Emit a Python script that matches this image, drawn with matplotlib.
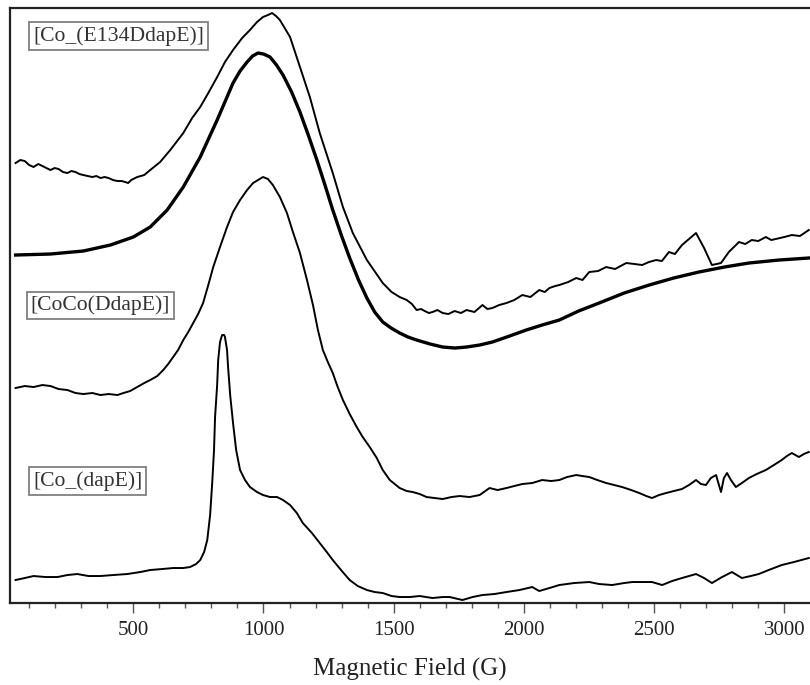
import matplotlib.pyplot as plt
from matplotlib.ticker import MultipleLocator

plt.rcParams['font.family'] = ['Liberation Serif', 'DejaVu Serif']

# Field axis (G) for each trace
field_e134 = [48, 66, 83, 100, 117, 135, 151, 166, 182, 198, 213, 230, 247, 262, 278, 293,
              308, 325, 343, 358, 374, 390, 405, 422, 439, 455, 469, 480, 492,
              515, 542, 565, 603, 642, 692, 726, 757, 788, 822, 852, 883, 918, 948, 975,
              998, 1017, 1033, 1048, 1063, 1102, 1140, 1178, 1216, 1266, 1305, 1343, 1397,
              1458, 1492, 1523, 1550, 1570, 1588, 1605, 1619, 1635, 1649, 1668, 1688, 1710,
              1734, 1758, 1780, 1810, 1841, 1860, 1879, 1905, 1933,
              1963, 1994, 2025, 2059, 2080, 2098, 2120, 2136, 2170, 2201, 2225, 2251, 2285,
              2316, 2350, 2393, 2425, 2454, 2480, 2508, 2530, 2557, 2580, 2607,
              2661, 2692, 2722, 2757, 2787, 2826, 2850, 2875, 2900, 2929, 2950, 2967, 3000,
              3029, 3060, 3094]
sig_e134 = [439, 442, 441, 437, 435, 438, 436, 434, 432, 434, 433, 430, 429, 431, 430, 428,
            427, 426, 425, 426, 424, 425, 424, 422, 421, 421, 420, 419, 422,
            425, 427, 432, 440, 452, 469, 484, 495, 509, 525, 540, 552, 564, 572, 580,
            585, 587, 589, 586, 582, 565, 535, 505, 469, 429, 395, 369, 342,
            319, 310, 305, 302, 298, 292, 293, 291, 289, 290, 292, 289, 288,
            291, 289, 292, 290, 297, 293, 294, 297, 299,
            302, 307, 305, 312, 310, 314, 316, 317, 320, 324, 322, 330, 331,
            335, 333, 339, 338, 337, 340, 342, 341, 350, 348, 357,
            369, 354, 337, 339, 350, 360, 358, 362, 361, 365, 362, 363, 365,
            367, 366, 372]

# Simulated spectrum (smooth)
field_sim = [48, 182, 308, 412, 500, 565, 630, 692, 757, 822, 883, 910, 937, 958, 979,
             1000, 1025, 1050, 1075, 1108, 1140, 1172, 1205, 1236, 1266, 1300, 1331, 1365,
             1397, 1427, 1458, 1490, 1523, 1555, 1588, 1640, 1688, 1735, 1780, 1830, 1879,
             1945, 2009, 2070, 2136, 2210, 2289, 2385, 2481, 2575, 2672, 2770, 2864, 2980,
             3094]
sig_sim = [347, 348, 351, 357, 365, 375, 392, 415, 445, 482, 519, 531, 540, 546, 549,
           548, 545, 537, 527, 510, 490, 467, 442, 417, 392, 366, 344, 322,
           304, 290, 280, 274, 269, 265, 262, 258, 255, 254, 255, 257, 260,
           266, 272, 277, 282, 291, 299, 309, 317, 324, 330, 335, 339, 342,
           344]

field_coco = [48, 83, 117, 151, 182, 213, 247, 278, 308, 343, 374, 405, 439, 462, 488,
              515, 542, 565, 592, 615, 634, 653, 672, 692, 711, 730, 749, 768, 788, 807,
              833, 860, 883, 910, 937, 960, 979, 998, 1017, 1036, 1063, 1090, 1113, 1140,
              1167, 1190, 1209, 1228, 1247, 1266, 1285, 1305, 1331, 1358, 1381, 1408, 1435,
              1458, 1485, 1523, 1550, 1573, 1600, 1626, 1657, 1688, 1722, 1753, 1791, 1830,
              1868, 1899, 1933, 1963, 1994, 2032, 2070, 2105, 2136, 2166, 2201, 2224, 2251,
              2282, 2316, 2347, 2377, 2412, 2443, 2470, 2492, 2519, 2546, 2576, 2607, 2634,
              2661, 2680, 2699, 2718, 2738, 2749, 2757, 2768, 2780, 2795, 2814, 2837, 2864,
              2894, 2929, 2960, 2990, 3010, 3029, 3056, 3075, 3094]
sig_coco = [214, 216, 215, 217, 216, 213, 212, 209, 208, 209, 207, 208, 207, 209, 211,
            215, 219, 222, 226, 232, 238, 245, 252, 262, 270, 279, 288, 299, 317, 335,
            355, 375, 390, 402, 412, 419, 422, 425, 423, 417, 405, 389, 370, 349,
            322, 297, 272, 252, 240, 229, 215, 202, 188, 175, 165, 155, 144,
            132, 122, 114, 111, 110, 108, 105, 104, 103, 105, 106, 105, 107,
            114, 112, 114, 116, 118, 119, 122, 121, 122, 125, 127, 126, 125,
            122, 119, 117, 115, 112, 109, 106, 104, 107, 109, 111, 113, 117,
            122, 118, 117, 124, 127, 117, 110, 124, 129, 122, 115, 119, 124,
            128, 132, 137, 142, 146, 149, 145, 148, 150]

field_dape = [48, 83, 117, 163, 209, 247, 285, 328, 374, 423, 477, 527, 565, 611, 653,
              692, 718, 741, 757, 772, 784, 795, 803, 810, 814, 822, 826, 833, 841, 849,
              852, 860, 864, 872, 883, 895, 910, 929, 948, 975, 998, 1025, 1052, 1075,
              1102, 1128, 1151, 1186, 1216, 1243, 1266, 1301, 1331, 1362, 1397, 1427, 1458,
              1492, 1523, 1561, 1600, 1649, 1688, 1715, 1764, 1803, 1841, 1887, 1933, 1983,
              2032, 2059, 2098, 2136, 2193, 2251, 2289, 2339, 2385, 2416, 2462, 2492, 2531,
              2569, 2607, 2634, 2661, 2692, 2722, 2761, 2799, 2837, 2871, 2902, 2940, 2990,
              3037, 3094]
sig_dape = [22, 24, 26, 25, 25, 27, 28, 26, 26, 27, 28, 30, 32, 33, 34,
            34, 35, 38, 42, 50, 62, 87, 119, 152, 185, 217, 242, 260, 267, 267,
            265, 252, 235, 207, 179, 152, 132, 122, 115, 110, 107, 105, 105, 102,
            97, 89, 79, 69, 59, 50, 42, 31, 22, 16, 12, 10, 9,
            6, 5, 5, 6, 4, 5, 5, 2, 5, 7, 8, 10, 12,
            15, 11, 14, 17, 19, 20, 18, 17, 19, 20, 20, 20, 17,
            21, 24, 26, 28, 24, 19, 25, 30, 24, 26, 28, 32, 37,
            40, 44]

labels = ['[Co_(E134DdapE)]', '[CoCo(DdapE)]', '[Co_(dapE)]']
label_pos = [(0.029, 0.953), (0.026, 0.500), (0.029, 0.204)]

fig = plt.figure(figsize=(8.1, 6.85), dpi=100)
ax = fig.add_axes([10 / 810, 0.1204, 800 / 810, 0.8679])

ax.plot(field_e134, sig_e134, color='black', lw=1.4)
ax.plot(field_sim, sig_sim, color='black', lw=2.4, solid_joinstyle='round')
ax.plot(field_coco, sig_coco, color='black', lw=1.4)
ax.plot(field_dape, sig_dape, color='black', lw=1.4)

for text, (tx, ty) in zip(labels, label_pos):
    ax.text(tx, ty, text, transform=ax.transAxes, fontsize=15.6, color='#333333',
            ha='left', va='center',
            bbox=dict(boxstyle='square,pad=0.18', fc='white', ec='#808080', lw=1.3))

ax.set_xlim(26.5, 3098.7)
ax.set_ylim(-0.5, 594)
ax.xaxis.set_major_locator(MultipleLocator(500))
ax.xaxis.set_minor_locator(MultipleLocator(100))
ax.set_yticks([])
ax.tick_params(axis='x', which='major', direction='out', length=7, width=1,
               color='#555555', labelsize=15, pad=6, labelcolor='#222222')
ax.tick_params(axis='x', which='minor', direction='out', length=3.5, width=1, color='#555555')
ax.spines['right'].set_visible(False)
for side in ['left', 'top', 'bottom']:
    ax.spines[side].set_linewidth(1.6)
    ax.spines[side].set_color('#222222')

ax.set_xlabel('Magnetic Field (G)', fontsize=18, labelpad=13, color='#222222')

fig.savefig('out.png', dpi=100)
